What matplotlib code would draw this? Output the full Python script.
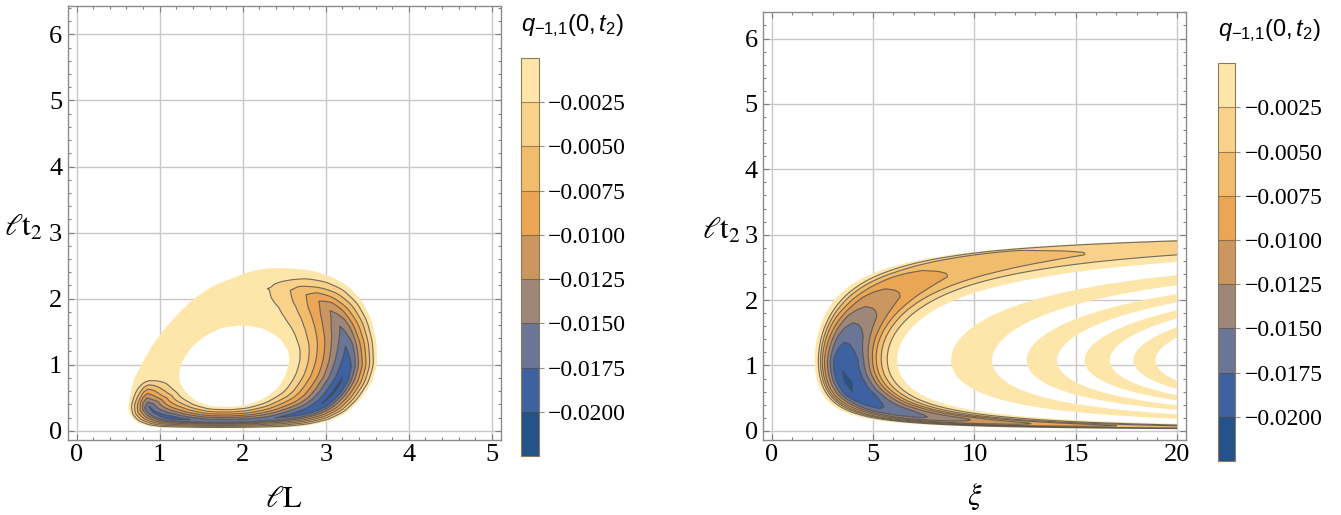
import numpy as np
import matplotlib
matplotlib.use("Agg")
import matplotlib.pyplot as plt
from matplotlib.ticker import MultipleLocator, FuncFormatter

plt.rcParams['font.family'] = 'serif'
plt.rcParams['font.serif'] = ['Liberation Serif', 'DejaVu Serif']
plt.rcParams['mathtext.fontset'] = 'custom'
plt.rcParams['mathtext.rm'] = 'Liberation Sans'
plt.rcParams['mathtext.it'] = 'Liberation Sans:italic'

# ------------------------------------------------------------------ data
levels = [-0.0225, -0.0200, -0.0175, -0.0150, -0.0125, -0.0100,
          -0.0075, -0.0050, -0.0025, 0.0]
band_colors = ['#24528a', '#3e62a1', '#6b7697', '#9e8779', '#cb9660',
               '#eba655', '#f1bd6d', '#f9d18b', '#fee6aa']
cbar_ticks = [-0.0200, -0.0175, -0.0150, -0.0125, -0.0100,
              -0.0075, -0.0050, -0.0025]
cbar_title = r'$q_{-1{,}1}(0,t_2)$'

# left panel (x = lL): ring shaped negative region
left_center = (1.92, 0.99)
left_aspect = 1.26
left_outer_x = [0.64, 0.62, 0.65, 0.72, 0.85, 1.00, 1.50, 2.00, 2.50, 2.80,
                3.05, 3.25, 3.41, 3.55, 3.62, 3.61, 3.55, 3.44, 3.27, 3.06,
                2.82, 2.55, 2.30, 2.08, 1.90, 1.65, 1.41, 1.22, 1.03, 0.90,
                0.78, 0.68]
left_outer_t = [0.50, 0.35, 0.22, 0.13, 0.07, 0.045, 0.035, 0.035, 0.045,
                0.08, 0.15, 0.27, 0.46, 0.72, 1.00, 1.35, 1.68, 1.96, 2.19,
                2.34, 2.43, 2.46, 2.46, 2.41, 2.32, 2.20, 2.00, 1.77, 1.50,
                1.27, 1.00, 0.75]
left_inner_x = [2.00, 2.25, 2.45, 2.55, 2.56, 2.52, 2.42, 2.25, 2.05, 1.85,
                1.62, 1.45, 1.33, 1.25, 1.23, 1.27, 1.38, 1.55, 1.75]
left_inner_t = [1.60, 1.55, 1.40, 1.20, 1.05, 0.85, 0.64, 0.48, 0.39, 0.36,
                0.37, 0.44, 0.56, 0.70, 0.84, 1.05, 1.26, 1.44, 1.56]
left_amp_theta = [-180, -170, -155, -142, -131, -115, -90, -60, -50, -40,
                  -25, -12.8, 0, 9.6, 20.3, 29.8, 37.5, 44.9, 53.7, 66, 80,
                  180]
left_amp_val = [0.0015, 0.0025, 0.0175, 0.0190, 0.0176, 0.0168, 0.0168,
                0.0168, 0.0178, 0.0188, 0.0200, 0.0205, 0.0195, 0.0176,
                0.0151, 0.0126, 0.0101, 0.0076, 0.0051, 0.0026, 0.0018,
                0.0015]
left_profile_rho = [-0.5, 0.0, 0.04, 0.08, 0.12, 0.16, 0.20, 0.27, 0.35,
                    0.43, 0.50, 0.56, 0.63, 0.71, 0.79, 0.885, 1.0, 1.5]
left_profile_val = [-1.5, 0.0, 0.125, 0.25, 0.375, 0.5, 0.62, 0.87, 1.0,
                    0.87, 0.75, 0.63, 0.5, 0.375, 0.25, 0.125, 0.0, -1.5]

# right panel (xi): band geometry phi = xi^2 * w(t)
right_tip_t = 1.08
right_end_t = 3.2
right_exp_lo = 1.511
right_exp_hi = 2.966
right_profile_phi = [0.0, 4.5, 5.3, 5.8, 6.25, 6.8, 7.6, 8.4, 9.4, 10.5,
                     12.0, 14.0, 16.0, 18.0, 20.5, 22.8, 24.7, 26.6, 29.2,
                     32.5, 38.3]
right_profile_val = [-0.8, 0.0, 0.128, 0.256, 0.385, 0.513, 0.641, 0.769,
                     0.897, 0.96, 1.0, 0.985, 0.95, 0.897, 0.769, 0.641,
                     0.513, 0.385, 0.256, 0.128, 0.0]
right_peak_t = [0.0, 1.7, 1.89, 2.16, 2.44, 2.75, 3.2]
right_peak_phi = [12.0, 12.0, 11.8, 10.6, 8.8, 5.9, 5.5]
right_amp_t = [0.0, 0.03, 0.07, 0.10, 0.15, 0.20, 0.34, 0.55, 0.75, 1.08,
               1.32, 1.63, 1.89, 2.16, 2.44, 2.75, 2.95, 3.1, 6.5]
right_amp_val = [0.002, 0.004, 0.0075, 0.0100, 0.0125, 0.0150, 0.0175,
                 0.0199, 0.0203, 0.0197, 0.0178, 0.0152, 0.0126, 0.0101,
                 0.0076, 0.0051, 0.0030, 0.0020, 0.0020]
right_edge_phi = 4.5
right_band_start = 38.3
right_band_half = 40.0
right_band_amp = 0.0016

# ------------------------------------------------------------------ fields
def smooth_radius(xs, ts, cx, cy, k, grid):
    # densify the closed outline, round it off, then express it as r(theta)
    px = np.append(xs, xs[0])
    pt = np.append(ts, ts[0])
    n = 40
    fx, ft = [], []
    for i in range(len(px) - 1):
        s = np.linspace(0, 1, n, endpoint=False)
        fx.append(px[i] + (px[i + 1] - px[i]) * s)
        ft.append(pt[i] + (pt[i + 1] - pt[i]) * s)
    fx = np.concatenate(fx)
    ft = np.concatenate(ft)
    ker = np.hanning(n + 1)
    ker /= ker.sum()
    h = n // 2
    fx = np.convolve(np.concatenate([fx[-h:], fx, fx[:h]]), ker, mode='valid')
    ft = np.convolve(np.concatenate([ft[-h:], ft, ft[:h]]), ker, mode='valid')
    u = (fx - cx) * k
    v = ft - cy
    th = np.degrees(np.arctan2(v, u))
    r = np.hypot(u, v)
    o = np.argsort(th)
    return np.interp(grid, th[o], r[o], period=360)

th_grid = np.linspace(-180, 180, 1441)[:-1]
cx, cy = left_center
r_out_g = smooth_radius(left_outer_x, left_outer_t, cx, cy, left_aspect, th_grid)
r_in_g = smooth_radius(left_inner_x, left_inner_t, cx, cy, left_aspect, th_grid)

xl = np.linspace(-0.12, 5.12, 1000)
tl = np.linspace(-0.15, 6.45, 1200)
XL, TL = np.meshgrid(xl, tl)
U = (XL - cx) * left_aspect
V = TL - cy
TH = np.degrees(np.arctan2(V, U))
RR = np.hypot(U, V)
RO = np.interp(TH, th_grid, r_out_g, period=360)
RI = np.interp(TH, th_grid, r_in_g, period=360)
RHO = (RO - RR) / (RO - RI)
FL = -np.interp(TH, left_amp_theta, left_amp_val, period=360) * \
    np.interp(RHO, left_profile_rho, left_profile_val)

xr = np.linspace(0.0, 20.0, 1200)
tr = np.concatenate([np.linspace(-0.15, 3.4, 1400), np.linspace(3.42, 6.45, 60)])
XR, TR = np.meshgrid(xr, tr)
tc = np.clip(TR, 0.0, right_end_t)
Wt = (tc / right_tip_t) ** right_exp_lo * \
    ((right_end_t - tc) / (right_end_t - right_tip_t)) ** right_exp_hi
PHI = XR ** 2 * Wt
# ridge of the main lobe moves towards its outer edge along the upper arm
php = np.interp(TR, right_peak_t, right_peak_phi)
ph0, php0, ph1 = right_edge_phi, right_peak_phi[0], right_band_start
PW = np.where(PHI < ph0, PHI,
              np.where(PHI < php, ph0 + (PHI - ph0) * (php0 - ph0) / (php - ph0),
                       np.where(PHI < ph1, php0 + (PHI - php) * (ph1 - php0) / (ph1 - php),
                                PHI)))
FR = -np.interp(TR, right_amp_t, right_amp_val) * \
    np.interp(PW, right_profile_phi, right_profile_val)
FR = FR + np.where(PHI > right_band_start,
                   right_band_amp * np.sin(np.pi * (PHI - right_band_start) / right_band_half),
                   0.0)

# ------------------------------------------------------------------ figure
Wpx, Hpx = 1341, 515
fig = plt.figure(figsize=(Wpx / 100, Hpx / 100), dpi=100)


def box(x0, y0, x1, y1):
    return [x0 / Wpx, 1 - y1 / Hpx, (x1 - x0) / Wpx, (y1 - y0) / Hpx]


axL = fig.add_axes(box(67.7, 6.0, 501.0, 440.0))
caxL = fig.add_axes(box(521.0, 58.0, 538.7, 456.0))
axR = fig.add_axes(box(763.3, 11.7, 1186.0, 440.0))
caxR = fig.add_axes(box(1217.7, 63.3, 1235.3, 461.0))

minus_fmt = FuncFormatter(lambda v, p: ('%.4f' % v).replace('-', '\u2212'))


def style_axes(ax, xlim, ylim, xmajor, xminor):
    ax.set_xlim(*xlim)
    ax.set_ylim(*ylim)
    ax.xaxis.set_major_locator(MultipleLocator(xmajor))
    ax.xaxis.set_minor_locator(MultipleLocator(xminor))
    ax.yaxis.set_major_locator(MultipleLocator(1))
    ax.yaxis.set_minor_locator(MultipleLocator(0.2))
    ax.tick_params(which='both', direction='in', top=True, right=True,
                   color='#808080', width=0.8, labelsize=19, labelcolor='black')
    ax.tick_params(which='major', length=4.0)
    ax.tick_params(which='minor', length=2.2)
    ax.tick_params(axis='x', pad=3)
    ax.tick_params(axis='y', pad=4)
    for s in ax.spines.values():
        s.set_color('#8c8c8c')
        s.set_linewidth(1.0)
    ax.grid(True, which='major', color='#c8c8c8', linewidth=1.0)
    ax.set_axisbelow(True)


def draw(ax, cax, X, Y, F, tx, ty):
    cs = ax.contourf(X, Y, F, levels=levels, colors=band_colors, zorder=1,
                     antialiased=True)
    ax.contour(X, Y, F, levels=levels[1:-1], colors='#3c3c3c',
               linewidths=0.8, alpha=0.72, linestyles='solid', zorder=2)
    cb = fig.colorbar(cs, cax=cax, ticks=cbar_ticks, format=minus_fmt,
                      drawedges=True)
    cb.dividers.set_color('#5a4a32')
    cb.dividers.set_alpha(0.55)
    cb.dividers.set_linewidth(0.8)
    cb.outline.set_edgecolor('#8a7a55')
    cb.outline.set_linewidth(0.8)
    cax.tick_params(direction='out', length=3.4, width=0.8, color='#909090',
                    labelsize=17, pad=3.5)
    cax.minorticks_off()
    fig.text(tx / Wpx, 1 - ty / Hpx, cbar_title, ha='center', va='center',
             fontsize=17)


style_axes(axL, (-0.108, 5.11), (-0.14, 6.43), 1, 0.2)
style_axes(axR, (-0.415, 20.44), (-0.14, 6.41), 5, 1)
draw(axL, caxL, XL, TL, FL, 572, 26)
draw(axR, caxR, XR, TR, FR, 1269, 31)

ylab = r'$\ell\mathrm{t}_2$'
fig.text(23 / Wpx, 1 - 228 / Hpx, ylab, ha='center', va='center',
         fontsize=22, math_fontfamily='stix')
fig.text(721 / Wpx, 1 - 231 / Hpx, ylab, ha='center', va='center',
         fontsize=22, math_fontfamily='stix')
fig.text(284 / Wpx, 1 - 507 / Hpx, r'$\ell\mathrm{L}$', ha='center',
         va='baseline', fontsize=22, math_fontfamily='stix')
fig.text(975 / Wpx, 1 - 505 / Hpx, r'$\xi$', ha='center',
         va='baseline', fontsize=22, math_fontfamily='stix')

fig.savefig('out.png', dpi=100)
